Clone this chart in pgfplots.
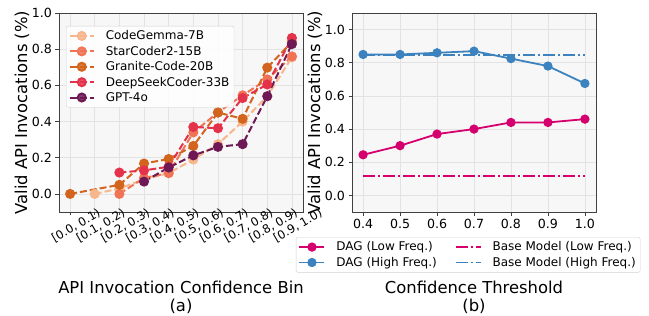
\documentclass[border=0pt]{standalone}
\usepackage{fontspec}
\setmainfont{DejaVu Sans}
\usepackage{pgfplots}
\pgfplotsset{compat=1.18}
\definecolor{cg}{HTML}{F8B68C}
\definecolor{sc}{HTML}{F07355}
\definecolor{gr}{HTML}{D2641E}
\definecolor{ds}{HTML}{E4324B}
\definecolor{gp}{HTML}{6E1955}
\definecolor{lowc}{HTML}{D5006E}
\definecolor{highc}{HTML}{3C82BE}
\pgfplotsset{
  common/.style={
    scale only axis, anchor=south west,
    width=244pt, height=199pt,
    axis background/.style={fill=black!3},
    grid=major,
    major grid style={draw=black!11, line width=0.6pt},
    axis line style={draw=black!75, line width=0.8pt},
    tick align=outside, tick pos=left,
    major tick length=3.5pt,
    tick style={draw=black!75, line width=0.8pt},
    /pgf/number format/assume math mode=true,
    /pgf/number format/fixed, /pgf/number format/fixed zerofill,
    /pgf/number format/precision=1,
    tick label style={font=\fontsize{12.6}{14}\selectfont},
    label style={font=\fontsize{16.4}{18.5}\selectfont},
    legend cell align=left,
  },
  dsh/.style={line width=2pt, dash pattern=on 7pt off 3pt, mark=*, mark size=4pt, mark options={solid}},
  dag/.style={line width=1.8pt, mark=*, mark size=3.7pt, mark options={solid}},
  base/.style={line width=1.8pt, dash pattern=on 12pt off 3pt on 2pt off 3pt},
}
\begin{document}
\begin{tikzpicture}[x=1pt,y=1pt]
\useasboundingbox (0,0) rectangle (649,316);
\begin{axis}[common,
  at={(59pt,104pt)},
  xmin=-0.45, xmax=9.45, ymin=-0.1, ymax=1.0,
  xtick={0,1,2,3,4,5,6,7,8,9},
  xticklabels={{[0.0, 0.1)},{[0.1, 0.2)},{[0.2, 0.3)},{[0.3, 0.4)},{[0.4, 0.5)},{[0.5, 0.6)},{[0.6, 0.7)},{[0.7, 0.8)},{[0.8, 0.9)},{[0.9, 1.0)}},
  xticklabel style={font=\fontsize{11.7}{13}\selectfont, rotate=30, anchor=center, yshift=-12pt},
  ytick={0,0.2,0.4,0.6,0.8,1.0},
  xlabel={API Invocation Confidence Bin\\(a)},
  xlabel style={at={(axis description cs:0.5,-0.43)}, anchor=center, align=center},
  ylabel={Valid API Invocations (\%)},
  ylabel style={at={(axis description cs:-0.152,0.5)}, anchor=center},
  legend style={at={(axis description cs:0.029,0.935)}, anchor=north west, draw=black!18, rounded corners=2pt,
    fill=white, fill opacity=0.85, text opacity=1, draw opacity=1,
    font=\fontsize{12}{14}\selectfont, row sep=0.8pt, inner sep=2.5pt},
  legend image code/.code={\draw[mark repeat=2, mark phase=2] plot coordinates {(0pt,0pt) (12pt,0pt) (24pt,0pt)}; \path (33pt,0pt);},
]
\addplot[cg, dsh] coordinates {(1,0.0)(2,0.03)(3,0.08)(4,0.115)(5,0.19)(6,0.275)(7,0.40)(8,0.54)(9,0.755)};
\addlegendentry{CodeGemma-7B}
\addplot[sc, dsh] coordinates {(2,0.0)(3,0.088)(4,0.115)(5,0.34)(6,0.45)(7,0.545)(8,0.633)(9,0.76)};
\addlegendentry{StarCoder2-15B}
\addplot[gr, dsh] coordinates {(0,0.0)(2,0.05)(3,0.168)(4,0.193)(5,0.265)(6,0.45)(7,0.415)(8,0.698)(9,0.84)};
\addlegendentry{Granite-Code-20B}
\addplot[ds, dsh] coordinates {(2,0.118)(3,0.13)(4,0.15)(5,0.37)(6,0.363)(7,0.53)(8,0.605)(9,0.862)};
\addlegendentry{DeepSeekCoder-33B}
\addplot[gp, dsh] coordinates {(3,0.068)(4,0.146)(5,0.213)(6,0.26)(7,0.275)(8,0.54)(9,0.828)};
\addlegendentry{GPT-4o}
\end{axis}
\begin{axis}[common,
  at={(352pt,104pt)},
  xmin=0.37, xmax=1.03, ymin=-0.1, ymax=1.1,
  xtick={0.4,0.5,0.6,0.7,0.8,0.9,1.0},
  ytick={0,0.2,0.4,0.6,0.8,1.0},
  xlabel={Confidence Threshold\\(b)},
  xlabel style={at={(axis description cs:0.5,-0.43)}, anchor=center, align=center},
  ylabel={Valid API Invocations (\%)},
  ylabel style={at={(axis description cs:-0.152,0.5)}, anchor=center},
  legend columns=2,
  legend style={at={(axis description cs:-0.23,-0.126)}, anchor=north west, draw=black!18, rounded corners=2pt,
    fill=white, font=\fontsize{12}{14}\selectfont, row sep=0.8pt, inner sep=2.5pt,
    /tikz/every even column/.append style={column sep=16pt}},
  legend image code/.code={\draw[mark repeat=2, mark phase=2] plot coordinates {(0pt,0pt) (12.5pt,0pt) (25pt,0pt)}; \path (34pt,0pt);},
]
\addplot[lowc, base, forget plot] coordinates {(0.4,0.115)(1.0,0.115)};
\addplot[highc, base, forget plot] coordinates {(0.4,0.845)(1.0,0.845)};
\addplot[lowc, dag, forget plot] coordinates {(0.4,0.245)(0.5,0.30)(0.6,0.37)(0.7,0.40)(0.8,0.44)(0.9,0.44)(1.0,0.46)};
\addplot[highc, dag, forget plot] coordinates {(0.4,0.85)(0.5,0.85)(0.6,0.86)(0.7,0.87)(0.8,0.825)(0.9,0.78)(1.0,0.675)};
\addlegendimage{lowc, dag}
\addlegendentry{DAG (Low Freq.)}
\addlegendimage{lowc, base}
\addlegendentry{Base Model (Low Freq.)}
\addlegendimage{highc, dag}
\addlegendentry{DAG (High Freq.)}
\addlegendimage{highc, base}
\addlegendentry{Base Model (High Freq.)}
\end{axis}
\end{tikzpicture}
\end{document}
